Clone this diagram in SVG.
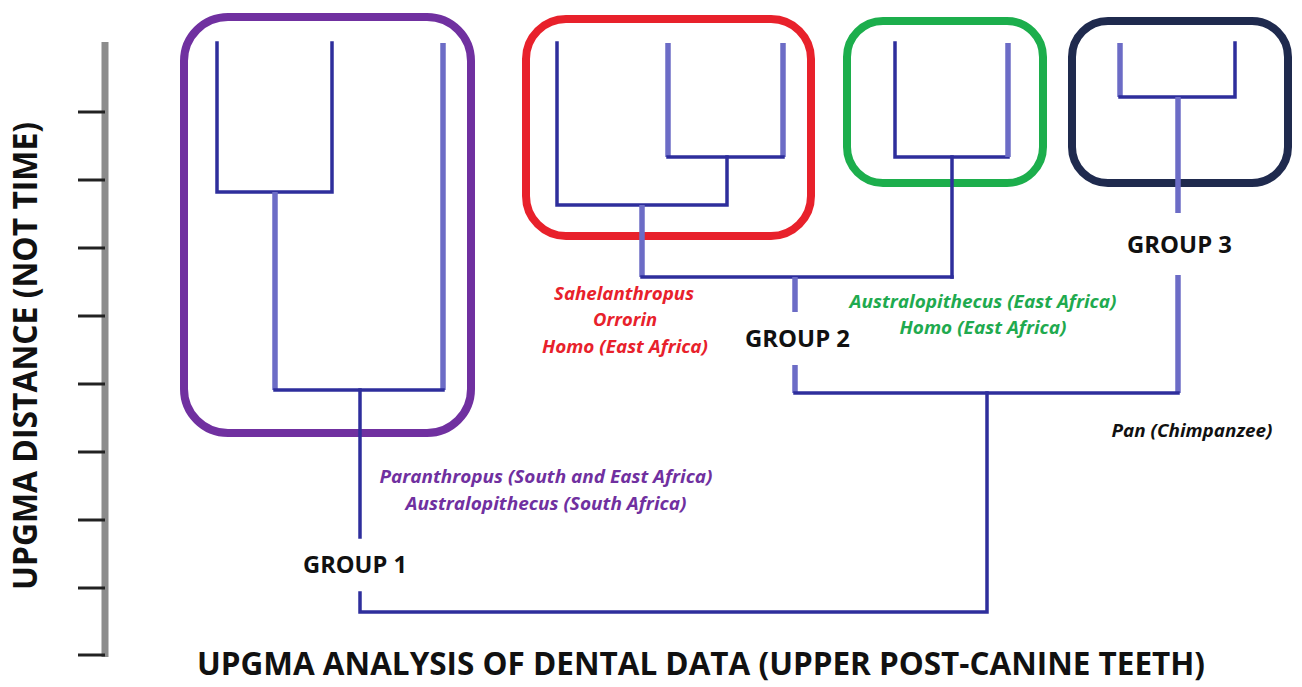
<svg xmlns="http://www.w3.org/2000/svg" width="1302" height="687" viewBox="0 0 1302 687">
<style>
.box{fill:none;stroke-width:8}
.dk{stroke:#2E2E9C;stroke-width:3.5;fill:none;stroke-linecap:square}
.lt{stroke:#6C6CC6;stroke-width:5.5;fill:none}
.grp{font-family:"Open Sans","Liberation Sans",sans-serif;font-weight:700;font-size:23px;fill:#111}
.sp{font-family:"Open Sans","Liberation Sans",sans-serif;font-weight:700;font-style:italic;font-size:18px;text-anchor:middle}
.title{font-family:"Open Sans","Liberation Sans",sans-serif;font-weight:700;fill:#111}
.tick{stroke:#222;stroke-width:3}
</style>
<rect width="1302" height="687" fill="#fff"/>
<g id="axis">
<line x1="105" y1="42" x2="105" y2="657" stroke="#8C8C8C" stroke-width="7"/>
<g class="tick">
<line x1="78" y1="112" x2="105" y2="112"/>
<line x1="78" y1="180" x2="105" y2="180"/>
<line x1="78" y1="248" x2="105" y2="248"/>
<line x1="78" y1="316" x2="105" y2="316"/>
<line x1="78" y1="384" x2="105" y2="384"/>
<line x1="78" y1="452" x2="105" y2="452"/>
<line x1="78" y1="520" x2="105" y2="520"/>
<line x1="78" y1="588" x2="105" y2="588"/>
<line x1="78" y1="655" x2="105" y2="655"/>
</g>
<text class="title" font-size="34" transform="translate(37,356) rotate(-90)" text-anchor="middle" textLength="468" lengthAdjust="spacingAndGlyphs">UPGMA DISTANCE (NOT TIME)</text>
</g>
<g id="cluster-purple"><rect class="box" x="184" y="17" width="287" height="416" rx="44" stroke="#7030A0"/></g>
<g id="cluster-red"><rect class="box" x="526" y="19" width="285" height="217" rx="40" stroke="#E8212B"/></g>
<g id="cluster-green"><rect class="box" x="847" y="21" width="196" height="162" rx="36" stroke="#1CAE4C"/></g>
<g id="cluster-navy"><rect class="box" x="1072" y="21" width="216" height="162" rx="36" stroke="#1F2A4E"/></g>
<g id="connectors">
<path class="dk" d="M217 43 V192 H332 V43"/>
<path class="lt" d="M443 43 V390"/>
<path class="lt" d="M275 192 V390"/>
<path class="dk" d="M275 390 H443"/>
<path class="dk" d="M360 390 V537"/>
<path class="dk" d="M360 593 V612 H987 V393"/>
<path class="lt" d="M668 43 V157"/>
<path class="lt" d="M783 43 V157"/>
<path class="dk" d="M668 157 H783"/>
<path class="dk" d="M557 43 V205 H727 V157"/>
<path class="lt" d="M642 205 V277"/>
<path class="dk" d="M642 277 H952"/>
<path class="dk" d="M895 43 V157 H1008"/>
<path class="lt" d="M1008 43 V157"/>
<path class="dk" d="M952 157 V277"/>
<path class="lt" d="M1120 43 V97"/>
<path class="dk" d="M1120 97 H1235 V43"/>
<path class="lt" d="M1178 97 V213"/>
<path class="lt" d="M1178 275 V393"/>
<path class="lt" d="M795 277 V312"/>
<path class="lt" d="M795 365 V393"/>
<path class="dk" d="M795 393 H1178"/>
</g>
<g id="labels">
<text class="grp" x="303" y="573" textLength="104" lengthAdjust="spacingAndGlyphs">GROUP 1</text>
<text class="grp" x="745" y="347" textLength="105" lengthAdjust="spacingAndGlyphs">GROUP 2</text>
<text class="grp" x="1127" y="253" textLength="105" lengthAdjust="spacingAndGlyphs">GROUP 3</text>
<g fill="#7030A0">
<text class="sp" x="546" y="483" textLength="333" lengthAdjust="spacingAndGlyphs">Paranthropus (South and East Africa)</text>
<text class="sp" x="546" y="510" textLength="281" lengthAdjust="spacingAndGlyphs">Australopithecus (South Africa)</text>
</g>
<g fill="#E8212B">
<text class="sp" x="624" y="300" textLength="140" lengthAdjust="spacingAndGlyphs">Sahelanthropus</text>
<text class="sp" x="625" y="326" textLength="64" lengthAdjust="spacingAndGlyphs">Orrorin</text>
<text class="sp" x="625" y="353" textLength="166" lengthAdjust="spacingAndGlyphs">Homo (East Africa)</text>
</g>
<g fill="#1FAA4F">
<text class="sp" x="983" y="308" textLength="267" lengthAdjust="spacingAndGlyphs">Australopithecus (East Africa)</text>
<text class="sp" x="983" y="334" textLength="167" lengthAdjust="spacingAndGlyphs">Homo (East Africa)</text>
</g>
<text class="sp" x="1192" y="437" fill="#111" textLength="161" lengthAdjust="spacingAndGlyphs">Pan (Chimpanzee)</text>
<text class="title" font-size="32" x="197" y="675" textLength="1008" lengthAdjust="spacingAndGlyphs">UPGMA ANALYSIS OF DENTAL DATA (UPPER POST-CANINE TEETH)</text>
</g>
</svg>
